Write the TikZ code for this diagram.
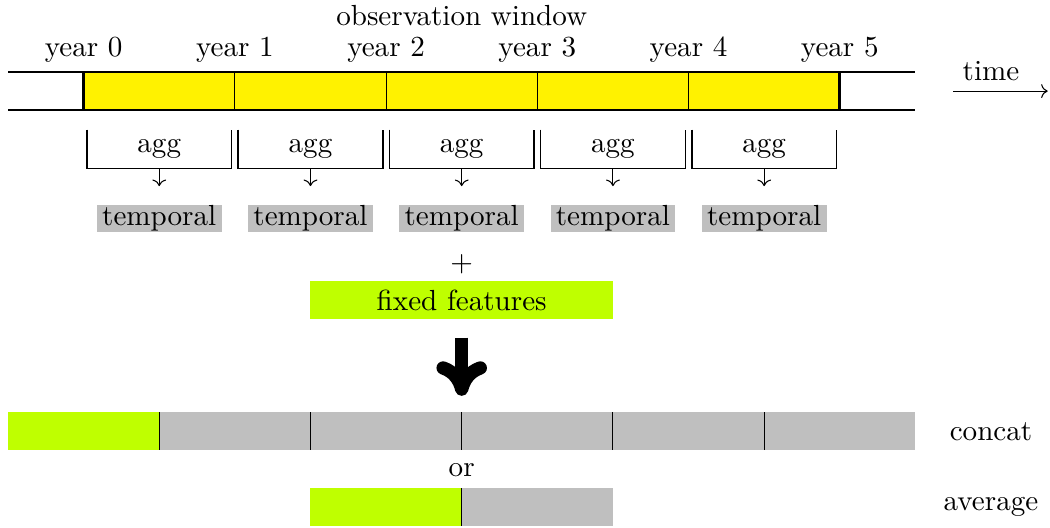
\documentclass[tikz,border=0pt,11pt]{standalone}
\usepackage{tikz}
\usetikzlibrary{arrows.meta}
\tikzset{yearnode/.style={above},
         aggnode/.style={minimum width=1.9cm, minimum height=0.5cm, inner sep=0pt},
         tempnode/.style={fill=gray!50, inner xsep=2pt, inner ysep=0.3pt},
         fixnode/.style={fill=lime, minimum width=4cm, minimum height=0.5cm, inner sep=0pt},
         bracket/.style={draw, semithick}}

\begin{document}
\begin{tikzpicture}
    \useasboundingbox (-0.106,-5.516) rectangle (13.78,1.455);

    % time line
    \fill[yellow] (1,0) rectangle (11,0.5);
    \draw[thick] (0,0) -- (12,0);
    \draw[thick] (0,0.5) -- (12,0.5);
    \draw[very thick] (1,0) -- (1,0.5);
    \draw[very thick] (11,0) -- (11,0.5);
    \draw[thin] (3,0) -- (3,0.5);
    \draw[thin] (5,0) -- (5,0.5);
    \draw[thin] (7,0) -- (7,0.5);
    \draw[thin] (9,0) -- (9,0.5);

    \node[yearnode] (Y0) at (1,0.5)   {year 0};
    \node[yearnode] (Y1) at (3,0.5)   {year 1};
    \node[yearnode] (Y2) at (5,0.5)   {year 2};
    \node[yearnode] (Y3) at (7,0.5)   {year 3};
    \node[yearnode] (Y4) at (9,0.5)   {year 4};
    \node[yearnode] (Y5) at (11,0.5)  {year 5};
    \node[anchor=base] (W) at (6,1.12) {observation window};

    \coordinate (T0) at (12.5,0.25);
    \coordinate (T1) at (13.75,0.25);
    \draw[->] (T0) -- (T1);
    \node[above] (T) at (13,0.25) {time};

    % aggregation per year
    \node[aggnode] (A1) at (2,-0.516)  {agg};
    \node[aggnode] (A2) at (4,-0.516)  {agg};
    \node[aggnode] (A3) at (6,-0.516)  {agg};
    \node[aggnode] (A4) at (8,-0.516)  {agg};
    \node[aggnode] (A5) at (10,-0.516) {agg};
    \draw[bracket] (A1.north west) |- (A1.south) -| (A1.north east);
    \draw[bracket] (A2.north west) |- (A2.south) -| (A2.north east);
    \draw[bracket] (A3.north west) |- (A3.south) -| (A3.north east);
    \draw[bracket] (A4.north west) |- (A4.south) -| (A4.north east);
    \draw[bracket] (A5.north west) |- (A5.south) -| (A5.north east);

    \node[tempnode] (B1) at (2,-1.435)  {temporal};
    \node[tempnode] (B2) at (4,-1.435)  {temporal};
    \node[tempnode] (B3) at (6,-1.435)  {temporal};
    \node[tempnode] (B4) at (8,-1.435)  {temporal};
    \node[tempnode] (B5) at (10,-1.435) {temporal};
    \draw[->, shorten >=0.24cm] (A1.south) -- (B1.north);
    \draw[->, shorten >=0.24cm] (A2.south) -- (B2.north);
    \draw[->, shorten >=0.24cm] (A3.south) -- (B3.north);
    \draw[->, shorten >=0.24cm] (A4.south) -- (B4.north);
    \draw[->, shorten >=0.24cm] (A5.south) -- (B5.north);

    \node (P) at (6,-2.037) {$+$};
    \node[fixnode] (F) at (6,-2.513) {fixed features};

    \coordinate (C) at (6,-4);
    \draw[line width=5pt, -{To[length=13pt, width=19pt]}, shorten <=0.24cm, shorten >=0.22cm] (F.south) -- (C);

    % concat
    \fill[lime] (0,-4) rectangle (2,-4.5);
    \fill[gray!50] (2,-4) rectangle (12,-4.5);
    \draw[thin] (2,-4) -- (2,-4.5);
    \draw[thin] (4,-4) -- (4,-4.5);
    \draw[thin] (6,-4) -- (6,-4.5);
    \draw[thin] (8,-4) -- (8,-4.5);
    \draw[thin] (10,-4) -- (10,-4.5);
    \node (CC) at (13,-4.25) {concat};

    \node (O) at (6,-4.76) {or};

    % average
    \fill[lime] (4,-5) rectangle (6,-5.5);
    \fill[gray!50] (6,-5) rectangle (8,-5.5);
    \draw[thin] (6,-5) -- (6,-5.5);
    \node (AV) at (13,-5.25) {average};
\end{tikzpicture}
\end{document}
